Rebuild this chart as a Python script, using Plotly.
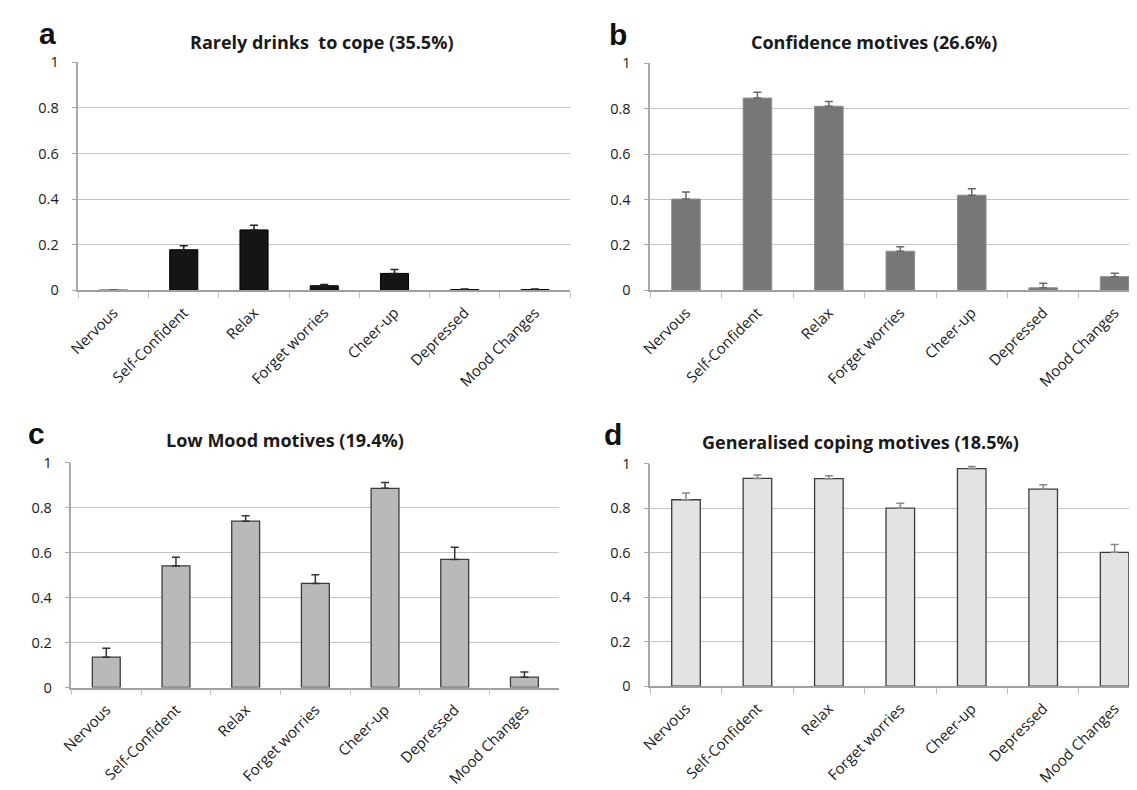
import plotly.graph_objects as go

categories = ["Nervous", "Self-Confident", "Relax", "Forget worries", "Cheer-up", "Depressed", "Mood Changes"]

titles = ["Rarely drinks  to cope (35.5%)", "Confidence motives (26.6%)",
          "Low Mood motives (19.4%)", "Generalised coping motives (18.5%)"]
letters = ["a", "b", "c", "d"]

a_vals = [0.0, 0.178, 0.265, 0.020, 0.074, 0.003, 0.003]
a_err = [None, 0.017, 0.020, 0.005, 0.017, 0.003, 0.003]
b_vals = [0.402, 0.847, 0.811, 0.172, 0.419, 0.011, 0.060]
b_err = [0.031, 0.026, 0.021, 0.020, 0.029, 0.020, 0.015]
c_vals = [0.135, 0.541, 0.740, 0.463, 0.886, 0.570, 0.046]
c_err = [0.040, 0.039, 0.024, 0.039, 0.026, 0.054, 0.023]
d_vals = [0.838, 0.934, 0.933, 0.800, 0.978, 0.886, 0.602]
d_err = [0.030, 0.015, 0.013, 0.022, 0.009, 0.020, 0.035]

W, H = 1137, 790
FONT = "Open Sans"

panels = [
    dict(vals=a_vals, err=a_err, fill="#151515", line="#000000", lw=1, ecol="#222222",
         x0=59, x1=556, ytop=45.5, ybot=279, xr=[-0.5, 6.5], tx=305, ty=25, lx=28, ly=34),
    dict(vals=b_vals, err=b_err, fill="#777777", line="#8e8e8e", lw=1, ecol="#666666",
         x0=637, x1=1137, ytop=46.5, ybot=279, xr=[-0.5, -0.5 + 500 / 72.2], tx=863, ty=25, lx=604, ly=35),
    dict(vals=c_vals, err=c_err, fill="#b9b9b9", line="#3c3c3c", lw=1.3, ecol="#333333",
         x0=52, x1=545, ytop=455.7, ybot=686, xr=[-0.5, 6.5], tx=268, ty=432, lx=17, ly=444),
    dict(vals=d_vals, err=d_err, fill="#e3e3e3", line="#3c3c3c", lw=1.3, ecol="#888888",
         x0=637, x1=1137, ytop=456.7, ybot=684.7, xr=[-0.5, -0.5 + 500 / 72.2], tx=849, ty=434, lx=599, ly=445),
]

fig = go.Figure()
annotations = []
for i, p in enumerate(panels):
    k = "" if i == 0 else str(i + 1)
    minus = [None if e is None else 0 for e in p["err"]]
    fig.add_trace(go.Bar(
        x=categories, y=p["vals"], width=0.4,
        marker=dict(color=p["fill"], line=dict(color=p["line"], width=p["lw"])),
        error_y=dict(type="data", symmetric=False, array=p["err"], arrayminus=minus,
                     color=p["ecol"], thickness=1.5, width=4),
        xaxis="x" + k, yaxis="y" + k, showlegend=False,
    ))
    fig.update_layout(**{
        "xaxis" + k: dict(
            domain=[p["x0"] / W, p["x1"] / W], anchor="y" + k, type="category",
            range=p["xr"], tickson="boundaries", ticks="outside", ticklen=6,
            tickcolor="#c0c0c0", tickwidth=1.3, showline=True, linecolor="#a0a0a0", linewidth=1.5,
            showgrid=False, tickangle=-45, ticklabelstandoff=6,
            tickfont=dict(family=FONT, size=15, color="#1a1a1a"), fixedrange=True,
        ),
        "yaxis" + k: dict(
            domain=[1 - p["ybot"] / H, 1 - p["ytop"] / H], anchor="x" + k,
            range=[0, 1], dtick=0.2, tick0=0, ticks="outside", ticklen=5,
            tickcolor="#a8a8a8", tickwidth=1.3, showline=True, linecolor="#a8a8a8", linewidth=1.5,
            showgrid=True, gridcolor="#c4c4c4", gridwidth=1.2, zeroline=False,
            ticklabelstandoff=10,
            tickfont=dict(family=FONT, size=14.5, color="#1a1a1a"), fixedrange=True,
        ),
    })
    annotations.append(dict(
        text="<b>" + titles[i] + "</b>", x=p["tx"] / W, y=1 - p["ty"] / H,
        xref="paper", yref="paper", xanchor="center", yanchor="middle", showarrow=False,
        font=dict(family=FONT, size=18, color="#1a1a1a"),
    ))
    annotations.append(dict(
        text="<b>" + letters[i] + "</b>", x=p["lx"] / W, y=1 - p["ly"] / H,
        xref="paper", yref="paper", xanchor="center", yanchor="bottom", showarrow=False,
        font=dict(family="Liberation Sans", size=30, color="#111111"), borderpad=0,
    ))

fig.update_layout(
    width=W, height=H, margin=dict(l=0, r=0, t=0, b=0),
    paper_bgcolor="white", plot_bgcolor="white",
    annotations=annotations, bargap=0.6,
)

fig.write_html("out.html")
